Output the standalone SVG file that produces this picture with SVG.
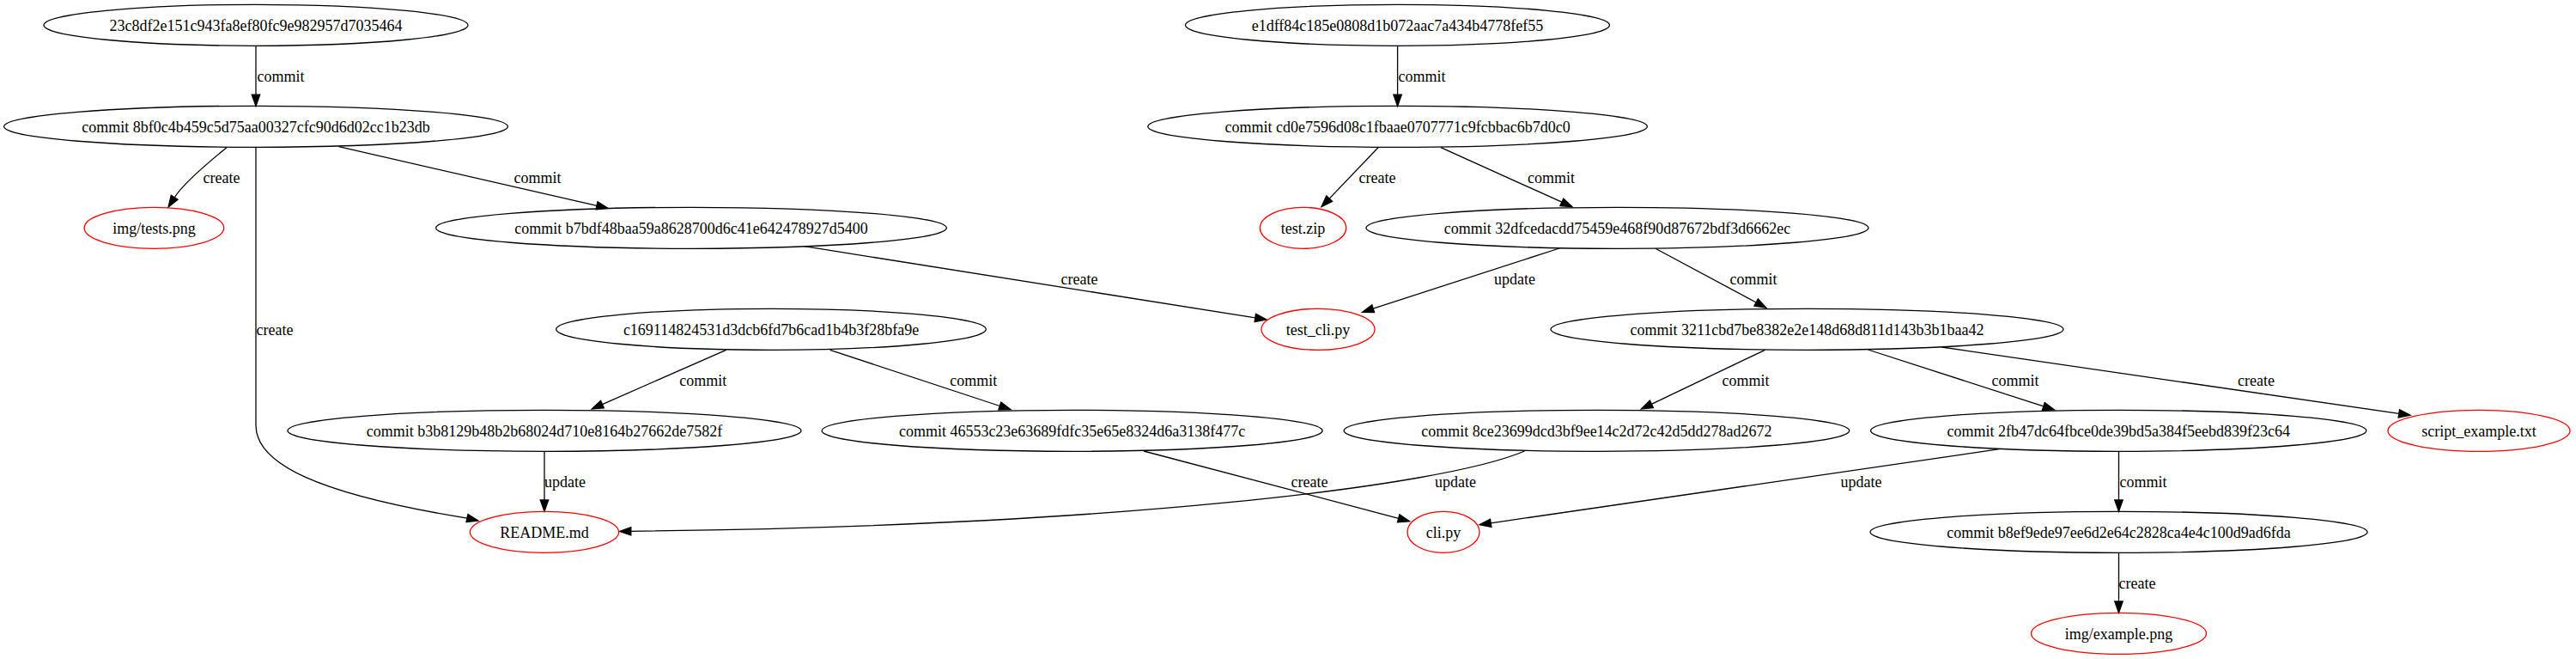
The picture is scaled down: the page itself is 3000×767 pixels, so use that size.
<svg xmlns="http://www.w3.org/2000/svg" width="3000" height="767" viewBox="0 0 3000 767">
<style>
text{font-family:"Liberation Serif","Times New Roman",serif;font-size:18px;fill:#000;text-anchor:middle}
.n ellipse{fill:none;stroke:#000;stroke-width:1.3}
.f ellipse{fill:none;stroke:#ff0000;stroke-width:1.3}
.e path{fill:none;stroke:#000;stroke-width:1.3}
.e polygon{fill:#000;stroke:#000;stroke-width:1.3}
</style>
<rect width="3000" height="767" fill="#fff"/>
<g id="edges">
<g class="e"><path d="M298,53.3 L298,110.2"/><polygon points="293.3,110.2 298,123.5 302.7,110.2"/><text x="327" y="94.8">commit</text></g>
<g class="e"><path d="M264,171.7 C250,183 214,213 203.2,229.8"/><polygon points="207.1,232.3 196,241 199.3,227.3"/><text x="258" y="212.8">create</text></g>
<g class="e"><path d="M298,171.3 L298,495 C298,540 370,575 544,603.1"/><polygon points="543,607.6 557,606 545,598.5"/><text x="320" y="389.6">create</text></g>
<g class="e"><path d="M394.6,170.7 L695,239.3"/><polygon points="694,243.9 708,242.3 696,234.8"/><text x="626" y="212.8">commit</text></g>
<g class="e"><path d="M937,286.7 L1461.8,369.9"/><polygon points="1461.1,374.5 1475,372 1462.5,365.3"/><text x="1257" y="330.8">create</text></g>
<g class="e"><path d="M1627.6,53.3 L1627.6,110.2"/><polygon points="1622.9,110.2 1627.6,123.5 1632.3,110.2"/><text x="1656" y="94.8">commit</text></g>
<g class="e"><path d="M1605,171.7 L1548.2,231.1"/><polygon points="1551.6,234.3 1539,240.7 1544.8,227.8"/><text x="1604" y="212.8">create</text></g>
<g class="e"><path d="M1678,171.7 L1818.8,235.2"/><polygon points="1816.9,239.5 1831,240.7 1820.8,231"/><text x="1806.5" y="212.8">commit</text></g>
<g class="e"><path d="M1816,289 L1599.2,359.2"/><polygon points="1600.6,363.6 1586.5,363.3 1597.8,354.8"/><text x="1764" y="330.8">update</text></g>
<g class="e"><path d="M1928,289.3 L2045.2,352"/><polygon points="2043,356.1 2057,358.3 2047.4,347.9"/><text x="2042" y="330.8">commit</text></g>
<g class="e"><path d="M845.6,407.3 L701.5,470.6"/><polygon points="703.4,474.9 689.3,476 699.6,466.3"/><text x="818.7" y="448.8">commit</text></g>
<g class="e"><path d="M966.7,407.3 L1164.3,472.5"/><polygon points="1162.9,476.9 1177,476.7 1165.8,468.1"/><text x="1133.7" y="448.8">commit</text></g>
<g class="e"><path d="M2055.5,407.3 L1923.4,470.3"/><polygon points="1925.4,474.5 1911.4,476 1921.4,466.1"/><text x="2033" y="448.8">commit</text></g>
<g class="e"><path d="M2175.5,407 L2379.8,472.9"/><polygon points="2378.4,477.3 2392.5,477 2381.2,468.5"/><text x="2347" y="448.8">commit</text></g>
<g class="e"><path d="M2261.5,404 L2793.8,481.4"/><polygon points="2793.1,486 2807,483.3 2794.5,476.8"/><text x="2627.5" y="448.8">create</text></g>
<g class="e"><path d="M1332,525 L1628.7,603.3"/><polygon points="1627.5,607.8 1641.6,606.7 1629.9,598.8"/><text x="1525" y="566.8">create</text></g>
<g class="e"><path d="M1775.5,525 C1680,566 1300,612 734.8,618.3"/><polygon points="734.8,623 721.5,618.5 734.8,613.6"/><text x="1695" y="566.8">update</text></g>
<g class="e"><path d="M634,525.3 L634,582"/><polygon points="629.3,582 634,595.3 638.7,582"/><text x="658" y="566.8">update</text></g>
<g class="e"><path d="M2328.5,522.7 L1736.2,608.8"/><polygon points="1736.9,613.4 1723,610.7 1735.5,604.2"/><text x="2167.5" y="566.8">update</text></g>
<g class="e"><path d="M2467.5,525.3 L2467.5,582"/><polygon points="2462.8,582 2467.5,595.3 2472.2,582"/><text x="2496" y="566.8">commit</text></g>
<g class="e"><path d="M2467.5,643.3 L2467.5,700"/><polygon points="2462.8,700 2467.5,713.3 2472.2,700"/><text x="2489" y="684.8">create</text></g>
</g>
<g id="n_23c8df2e" class="n"><ellipse cx="298" cy="29.3" rx="247" ry="24"/><text x="298" y="35.6">23c8df2e151c943fa8ef80fc9e982957d7035464</text></g>
<g id="n_8bf0c4b4" class="n"><ellipse cx="298" cy="147.3" rx="293.4" ry="24"/><text x="298" y="153.6">commit 8bf0c4b459c5d75aa00327cfc90d6d02cc1b23db</text></g>
<g id="f_tests_png" class="f"><ellipse cx="179.4" cy="265.3" rx="81.3" ry="24"/><text x="179.4" y="271.6">img/tests.png</text></g>
<g id="n_b7bdf48b" class="n"><ellipse cx="805" cy="265.3" rx="297.4" ry="24"/><text x="805" y="271.6">commit b7bdf48baa59a8628700d6c41e642478927d5400</text></g>
<g id="n_e1dff84c" class="n"><ellipse cx="1627.5" cy="29.3" rx="247" ry="24"/><text x="1627.5" y="35.6">e1dff84c185e0808d1b072aac7a434b4778fef55</text></g>
<g id="n_cd0e7596" class="n"><ellipse cx="1627.6" cy="147.3" rx="290.8" ry="24"/><text x="1627.6" y="153.6">commit cd0e7596d08c1fbaae0707771c9fcbbac6b7d0c0</text></g>
<g id="f_test_zip" class="f"><ellipse cx="1517.6" cy="265.3" rx="50.2" ry="24"/><text x="1517.6" y="271.6">test.zip</text></g>
<g id="n_32dfceda" class="n"><ellipse cx="1883.5" cy="265.3" rx="292.5" ry="24"/><text x="1883.5" y="271.6">commit 32dfcedacdd75459e468f90d87672bdf3d6662ec</text></g>
<g id="n_c1691148" class="n"><ellipse cx="898" cy="383.3" rx="250.3" ry="24"/><text x="898" y="389.6">c169114824531d3dcb6fd7b6cad1b4b3f28bfa9e</text></g>
<g id="f_test_cli_py" class="f"><ellipse cx="1535" cy="383.3" rx="66" ry="24"/><text x="1535" y="389.6">test_cli.py</text></g>
<g id="n_3211cbd7" class="n"><ellipse cx="2104.5" cy="383.3" rx="298.5" ry="24"/><text x="2104.5" y="389.6">commit 3211cbd7be8382e2e148d68d811d143b3b1baa42</text></g>
<g id="n_b3b8129b" class="n"><ellipse cx="634" cy="501.3" rx="299" ry="24"/><text x="634" y="507.6">commit b3b8129b48b2b68024d710e8164b27662de7582f</text></g>
<g id="n_46553c23" class="n"><ellipse cx="1248.6" cy="501.3" rx="291.5" ry="24"/><text x="1248.6" y="507.6">commit 46553c23e63689fdfc35e65e8324d6a3138f477c</text></g>
<g id="n_8ce23699" class="n"><ellipse cx="1859.4" cy="501.3" rx="294.3" ry="24"/><text x="1859.4" y="507.6">commit 8ce23699dcd3bf9ee14c2d72c42d5dd278ad2672</text></g>
<g id="n_2fb47dc6" class="n"><ellipse cx="2467.2" cy="501.3" rx="288.6" ry="24"/><text x="2467.2" y="507.6">commit 2fb47dc64fbce0de39bd5a384f5eebd839f23c64</text></g>
<g id="f_script_example_txt" class="f"><ellipse cx="2887" cy="501.3" rx="106" ry="24"/><text x="2887" y="507.6">script_example.txt</text></g>
<g id="f_readme_md" class="f"><ellipse cx="634" cy="619.3" rx="86.6" ry="24"/><text x="634" y="625.6">README.md</text></g>
<g id="f_cli_py" class="f"><ellipse cx="1681" cy="619.3" rx="42" ry="24"/><text x="1681" y="625.6">cli.py</text></g>
<g id="n_b8ef9ede" class="n"><ellipse cx="2467.5" cy="619.3" rx="289.5" ry="24"/><text x="2467.5" y="625.6">commit b8ef9ede97ee6d2e64c2828ca4e4c100d9ad6fda</text></g>
<g id="f_example_png" class="f"><ellipse cx="2467.5" cy="737.3" rx="102" ry="24"/><text x="2467.5" y="743.6">img/example.png</text></g>
</svg>
